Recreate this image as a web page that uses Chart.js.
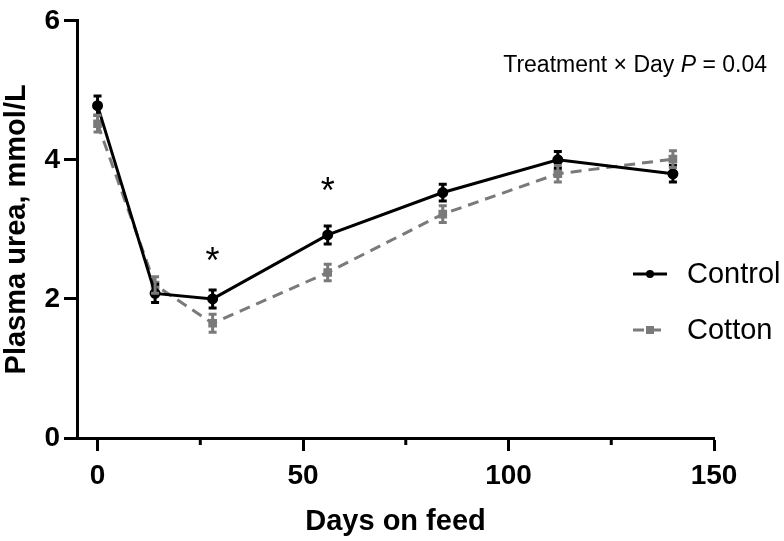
<!DOCTYPE html>
<html>
<head>
<meta charset="utf-8">
<script src="https://cdn.jsdelivr.net/npm/chart.js@4"></script>
<style>
  body { margin: 0; background: #fff; }
  canvas { display: block; }
</style>
</head>
<body>
<canvas id="urea-chart" width="784" height="541"></canvas>
<script>
const days = [0, 14, 28, 56, 84, 112, 140];
const controlMean = [4.78, 2.08, 2.0, 2.92, 3.53, 4.0, 3.8];
const controlSem = [0.14, 0.13, 0.13, 0.13, 0.12, 0.12, 0.12];
const cottonMean = [4.52, 2.2, 1.65, 2.38, 3.22, 3.8, 4.01];
const cottonSem = [0.12, 0.12, 0.13, 0.12, 0.12, 0.12, 0.12];
const xMajorTicks = [0, 50, 100, 150];
const xMinorTicks = [25, 75, 125];
const starDays = [28, 56];
const starLevels = [2.62, 3.62];

const FONT = "'Liberation Sans', Arial, sans-serif";
const GREY = "#7a7a7a";

const errorBars = {
  id: "errorBars",
  afterDatasetsDraw(chart) {
    const { ctx, scales: { x, y } } = chart;
    const sems = [controlSem, cottonSem];
    chart.data.datasets.forEach((ds, i) => {
      ctx.save();
      ctx.strokeStyle = ds.borderColor;
      ctx.lineWidth = 3;
      ds.data.forEach((pt, j) => {
        const px = x.getPixelForValue(pt.x);
        const top = y.getPixelForValue(pt.y + sems[i][j]);
        const bot = y.getPixelForValue(pt.y - sems[i][j]);
        ctx.beginPath();
        ctx.moveTo(px, top); ctx.lineTo(px, bot);
        ctx.moveTo(px - 4, top); ctx.lineTo(px + 4, top);
        ctx.moveTo(px - 4, bot); ctx.lineTo(px + 4, bot);
        ctx.stroke();
      });
      ctx.restore();
    });
  }
};

const extras = {
  id: "extras",
  afterDraw(chart) {
    const { ctx, scales: { x, y } } = chart;
    ctx.save();
    // minor x ticks
    ctx.strokeStyle = "#000";
    ctx.lineWidth = 3;
    xMinorTicks.forEach(v => {
      const px = x.getPixelForValue(v);
      ctx.beginPath();
      ctx.moveTo(px, y.bottom);
      ctx.lineTo(px, y.bottom + 7);
      ctx.stroke();
    });
    // significance stars
    ctx.fillStyle = "#000";
    ctx.font = "36px " + FONT;
    ctx.textAlign = "center";
    ctx.textBaseline = "middle";
    starDays.forEach((d, i) => {
      ctx.fillText("*", x.getPixelForValue(d), y.getPixelForValue(starLevels[i]) + 7);
    });
    // interaction note
    ctx.textAlign = "left";
    ctx.textBaseline = "alphabetic";
    const parts = [["Treatment \u00d7 Day ", ""], ["P", "italic "], [" = 0.04", ""]];
    let total = 0;
    parts.forEach(([t, s]) => { ctx.font = s + "23px " + FONT; total += ctx.measureText(t).width; });
    let tx = 767 - total;
    parts.forEach(([t, s]) => {
      ctx.font = s + "23px " + FONT;
      ctx.fillText(t, tx, 72);
      tx += ctx.measureText(t).width;
    });
    // legend
    const rows = [
      { label: "Control", color: "#000", dash: [], y: 274, square: false },
      { label: "Cotton", color: GREY, dash: [11, 6], y: 330, square: true }
    ];
    rows.forEach(r => {
      ctx.strokeStyle = r.color;
      ctx.fillStyle = r.color;
      ctx.lineWidth = 3;
      ctx.setLineDash(r.dash);
      ctx.beginPath();
      ctx.moveTo(633, r.y); ctx.lineTo(667, r.y);
      ctx.stroke();
      ctx.setLineDash([]);
      if (r.square) {
        ctx.fillRect(646, r.y - 4, 8, 8);
      } else {
        ctx.beginPath();
        ctx.arc(650, r.y, 4, 0, Math.PI * 2);
        ctx.fill();
      }
      ctx.fillStyle = "#000";
      ctx.font = "29px " + FONT;
      ctx.textBaseline = "middle";
      ctx.fillText(r.label, 687, r.y + 1);
    });
    ctx.restore();
  }
};

new Chart("urea-chart", {
  type: "line",
  data: {
    datasets: [
      {
        label: "Control",
        data: days.map((d, i) => ({ x: d, y: controlMean[i] })),
        borderColor: "#000",
        backgroundColor: "#000",
        borderWidth: 3,
        pointStyle: "circle",
        pointRadius: 4,
        pointHoverRadius: 4,
        tension: 0
      },
      {
        label: "Cotton",
        data: days.map((d, i) => ({ x: d, y: cottonMean[i] })),
        borderColor: GREY,
        backgroundColor: GREY,
        borderWidth: 3,
        borderDash: [11, 7],
        pointStyle: "rect",
        pointRadius: 4,
        pointHoverRadius: 4,
        tension: 0
      }
    ]
  },
  options: {
    responsive: false,
    animation: false,
    devicePixelRatio: 1,
    layout: { padding: { top: 14, right: 70, left: 0, bottom: 0 } },
    plugins: { legend: { display: false }, tooltip: { enabled: false } },
    scales: {
      x: {
        type: "linear",
        min: -5,
        max: 150,
        afterBuildTicks: s => { s.ticks = xMajorTicks.map(v => ({ value: v })); },
        afterFit: s => { s.height = 103; },
        border: { color: "#000", width: 3 },
        grid: { drawOnChartArea: false, tickLength: 13, tickWidth: 3, tickColor: "#000" },
        ticks: { color: "#000", padding: 8, maxRotation: 0, font: { family: FONT, size: 28, weight: "bold" } },
        title: {
          display: true,
          text: "Days on feed",
          color: "#000",
          padding: { top: 0, bottom: 2 },
          font: { family: FONT, size: 29, weight: "bold" }
        }
      },
      y: {
        min: 0,
        max: 6,
        ticks: { stepSize: 2, color: "#000", padding: 4, font: { family: FONT, size: 28, weight: "bold" } },
        afterFit: s => { s.width = 77; },
        border: { color: "#000", width: 3 },
        grid: { drawOnChartArea: false, tickLength: 13, tickWidth: 3, tickColor: "#000" },
        title: {
          display: true,
          text: "Plasma urea, mmol/L",
          color: "#000",
          padding: { top: 0, bottom: 0 },
          font: { family: FONT, size: 29, weight: "bold" }
        }
      }
    }
  },
  plugins: [errorBars, extras]
});
</script>
</body>
</html>
